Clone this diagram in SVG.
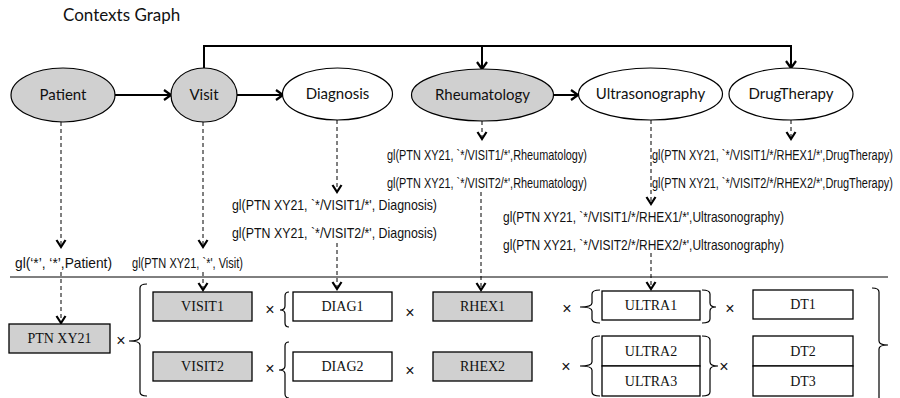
<svg xmlns="http://www.w3.org/2000/svg" width="900" height="398" viewBox="0 0 900 398">
<defs>
<marker id="arr" markerUnits="userSpaceOnUse" markerWidth="14" markerHeight="14" viewBox="0 0 14 14" refX="11" refY="7" orient="auto"><path d="M4,2 L11,7 L4,12" fill="none" stroke="#000" stroke-width="2.2"/></marker>
<marker id="darr" markerUnits="userSpaceOnUse" markerWidth="14" markerHeight="14" viewBox="0 0 14 14" refX="11" refY="7" orient="auto"><path d="M4,2.5 L11,7 L4,11.5" fill="none" stroke="#000" stroke-width="2.2"/></marker>
</defs>
<style>
.ell{stroke:#000;stroke-width:1.2}
.g{fill:#d0d0d0}
.w{fill:#fff}
.lbl{font-family:Lato,"Open Sans",sans-serif;font-size:15px;text-anchor:middle;fill:#111}
.box{stroke:#000;stroke-width:1.3}
.bt{font-family:"Liberation Serif",serif;font-size:14px;text-anchor:middle;fill:#111}
.gl{font-family:"Liberation Sans",Arial,sans-serif;font-size:14.5px;fill:#111}
.solid{stroke:#000;stroke-width:2;fill:none}
.dash{stroke:#000;stroke-width:1;stroke-dasharray:4 3;fill:none}
.br{stroke:#000;stroke-width:1.2;fill:none}
.x{font-family:"Liberation Sans",sans-serif;font-size:16px;text-anchor:middle;fill:#111}
.sep{stroke:#000;stroke-width:1}
</style>
<rect width="900" height="398" fill="#fff"/>
<text x="63" y="21" font-family="Lato,'Open Sans',sans-serif" font-size="17" fill="#111">Contexts Graph</text>

<g id="connectors">
<path class="solid" d="M115,95 L171,95" marker-end="url(#arr)"/>
<path class="solid" d="M237,95 L283,95" marker-end="url(#arr)"/>
<path class="solid" d="M554,95 L578,95" marker-end="url(#arr)"/>
<path class="solid" d="M204,68 V46 H791 V68" marker-end="url(#arr)"/>
<path class="solid" d="M482,46 V69" marker-end="url(#arr)"/>
<path class="dash" d="M61,122 V247" marker-end="url(#darr)"/>
<path class="dash" d="M61,272 V323" marker-end="url(#darr)"/>
<path class="dash" d="M203,122 V247" marker-end="url(#darr)"/>
<path class="dash" d="M203,272 V290" marker-end="url(#darr)"/>
<path class="dash" d="M337,120 V192" marker-end="url(#darr)"/>
<path class="dash" d="M337,243 V289" marker-end="url(#darr)"/>
<path class="dash" d="M482,121 V139" marker-end="url(#darr)"/>
<path class="dash" d="M481,192 V290" marker-end="url(#darr)"/>
<path class="dash" d="M651,120 V204" marker-end="url(#darr)"/>
<path class="dash" d="M651,253 V289" marker-end="url(#darr)"/>
<path class="dash" d="M791,120 V139" marker-end="url(#darr)"/>
</g>

<g id="labels">
<text class="gl" x="15" y="268" textLength="97" lengthAdjust="spacingAndGlyphs">gl(‘*’, ‘*’,Patient)</text>
<text class="gl" x="132" y="268" textLength="111" lengthAdjust="spacingAndGlyphs">gl(PTN XY21, `*', Visit)</text>
<text class="gl" x="232" y="210" textLength="205" lengthAdjust="spacingAndGlyphs">gl(PTN XY21, `*/VISIT1/*', Diagnosis)</text>
<text class="gl" x="232" y="238" textLength="205" lengthAdjust="spacingAndGlyphs">gl(PTN XY21, `*/VISIT2/*', Diagnosis)</text>
<text class="gl" x="387" y="160" textLength="200" lengthAdjust="spacingAndGlyphs">gl(PTN XY21, `*/VISIT1/*',Rheumatology)</text>
<text class="gl" x="387" y="188" textLength="200" lengthAdjust="spacingAndGlyphs">gl(PTN XY21, `*/VISIT2/*',Rheumatology)</text>
<text class="gl" transform="translate(652,160) scale(0.755,1)" x="0" y="0" textLength="319" lengthAdjust="spacingAndGlyphs">gl(PTN XY21, `*/VISIT1/*/RHEX1/*',DrugTherapy)</text>
<text class="gl" transform="translate(652,188) scale(0.755,1)" x="0" y="0" textLength="319" lengthAdjust="spacingAndGlyphs">gl(PTN XY21, `*/VISIT2/*/RHEX2/*',DrugTherapy)</text>
<text class="gl" x="503" y="222" textLength="281" lengthAdjust="spacingAndGlyphs">gl(PTN XY21, `*/VISIT1/*/RHEX1/*',Ultrasonography)</text>
<text class="gl" x="503" y="250" textLength="281" lengthAdjust="spacingAndGlyphs">gl(PTN XY21, `*/VISIT2/*/RHEX2/*',Ultrasonography)</text>
</g>

<g id="node-patient"><ellipse class="ell g" cx="63" cy="95" rx="52" ry="27"/><text class="lbl" x="63" y="100">Patient</text></g>
<g id="node-visit"><ellipse class="ell g" cx="204" cy="95" rx="33" ry="27"/><text class="lbl" x="204" y="100">Visit</text></g>
<g id="node-diagnosis"><ellipse class="ell w" cx="337.5" cy="94" rx="55" ry="26"/><text class="lbl" x="337.5" y="99">Diagnosis</text></g>
<g id="node-rheumatology"><ellipse class="ell g" cx="482.5" cy="95" rx="71" ry="26"/><text class="lbl" x="482.5" y="100">Rheumatology</text></g>
<g id="node-ultrasonography"><ellipse class="ell w" cx="650.5" cy="94" rx="72" ry="26"/><text class="lbl" x="650.5" y="99">Ultrasonography</text></g>
<g id="node-drugtherapy"><ellipse class="ell w" cx="791" cy="94" rx="62" ry="26"/><text class="lbl" x="791" y="99">DrugTherapy</text></g>

<line class="sep" x1="10" y1="277" x2="888" y2="277"/>

<g id="box-ptn"><rect class="box g" x="9" y="324" width="101" height="29"/><text class="bt" x="59.5" y="343">PTN XY21</text></g>
<g id="box-visit1"><rect class="box g" x="153" y="292" width="99" height="29"/><text class="bt" x="202.5" y="311">VISIT1</text></g>
<g id="box-visit2"><rect class="box g" x="153" y="352" width="99" height="29"/><text class="bt" x="202.5" y="371">VISIT2</text></g>
<g id="box-diag1"><rect class="box w" x="293" y="292" width="99" height="29"/><text class="bt" x="342.5" y="311">DIAG1</text></g>
<g id="box-diag2"><rect class="box w" x="293" y="352" width="99" height="29"/><text class="bt" x="342.5" y="371">DIAG2</text></g>
<g id="box-rhex1"><rect class="box g" x="433" y="292" width="99" height="29"/><text class="bt" x="482.5" y="311">RHEX1</text></g>
<g id="box-rhex2"><rect class="box g" x="433" y="352" width="99" height="29"/><text class="bt" x="482.5" y="371">RHEX2</text></g>
<g id="box-ultra1"><rect class="box w" x="602" y="291" width="98" height="29"/><text class="bt" x="651" y="310">ULTRA1</text></g>
<g id="box-ultra2"><rect class="box w" x="602" y="336" width="98" height="30"/><text class="bt" x="651" y="356">ULTRA2</text></g>
<g id="box-ultra3"><rect class="box w" x="602" y="366" width="98" height="30"/><text class="bt" x="651" y="386">ULTRA3</text></g>
<g id="box-dt1"><rect class="box w" x="753" y="290" width="100" height="29"/><text class="bt" x="803" y="309">DT1</text></g>
<g id="box-dt2"><rect class="box w" x="753" y="336" width="100" height="30"/><text class="bt" x="803" y="356">DT2</text></g>
<g id="box-dt3"><rect class="box w" x="753" y="366" width="100" height="30"/><text class="bt" x="803" y="386">DT3</text></g>

<g id="braces">
<path class="br" d="M147,284 Q140,284 140,288 L140,337 Q140,341 129,341 Q140,341 140,345 L140,392 Q140,396 147,396"/>
<path class="br" d="M289,292 Q285,292 285,296 L285,306 Q285,310 280,310 Q285,310 285,314 L285,323 Q285,327 289,327"/>
<path class="br" d="M289,342 Q285,342 285,346 L285,366 Q285,370 279,370 Q285,370 285,374 L285,394 Q285,398 289,398"/>
<path class="br" d="M600,290 Q592,290 592,294 L592,303 Q592,307 580,307 Q592,307 592,311 L592,319 Q592,323 600,323"/>
<path class="br" d="M600,336 Q592,336 592,340 L592,362 Q592,366 580,366 Q592,366 592,370 L592,392 Q592,396 600,396"/>
<path class="br" d="M702,290 Q710,290 710,294 L710,303 Q710,307 716,307 Q710,307 710,311 L710,319 Q710,323 702,323"/>
<path class="br" d="M702,336 Q710,336 710,340 L710,362 Q710,366 718,366 Q710,366 710,370 L710,392 Q710,396 702,396"/>
<path class="br" d="M872,288 Q879,288 879,292 L879,341 Q879,345 888,345 Q879,345 879,349 L879,398 Q879,402 872,402"/>
</g>

<g id="times">
<text class="x" x="121" y="346">×</text>
<text class="x" x="270" y="315">×</text>
<text class="x" x="270" y="374">×</text>
<text class="x" x="410" y="318">×</text>
<text class="x" x="410" y="376">×</text>
<text class="x" x="567" y="314">×</text>
<text class="x" x="566" y="372">×</text>
<text class="x" x="730" y="314">×</text>
<text class="x" x="724" y="372">×</text>
</g>
</svg>
